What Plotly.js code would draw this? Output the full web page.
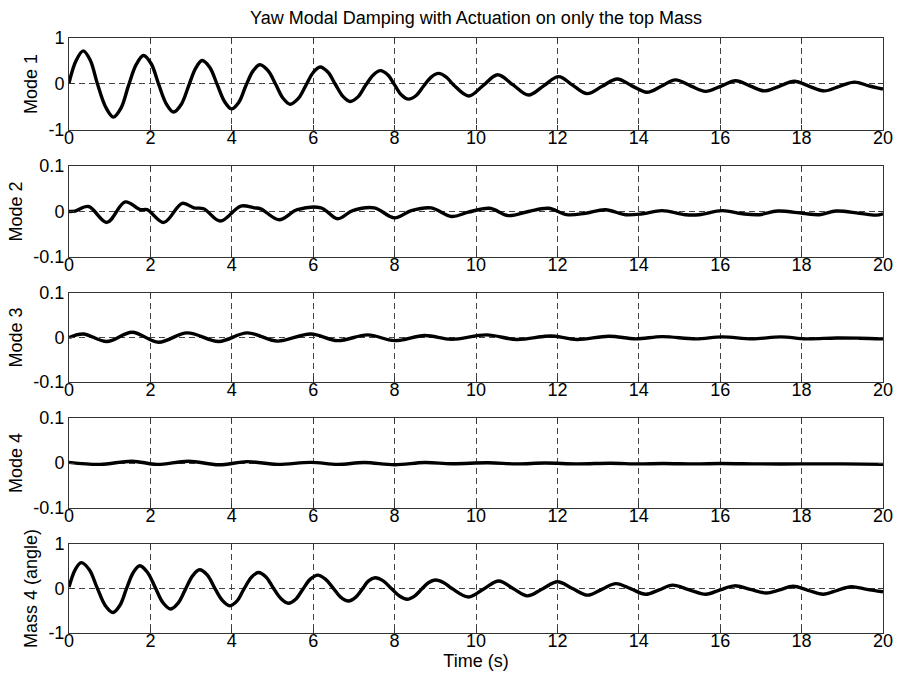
<!DOCTYPE html>
<html>
<head>
<meta charset="utf-8">
<script src="https://cdn.plot.ly/plotly-3.0.1.min.js"></script>
<style>html,body{margin:0;padding:0;background:#fff;}#chart{width:899px;height:681px;}</style>
</head>
<body>
<div id="chart"></div>
<script>
// ---- Data ----
const xTicks = [0, 2, 4, 6, 8, 10, 12, 14, 16, 18, 20];
const yTicksBig = [-1, 0, 1];
const yTickTextBig = ['-1', '0', '1'];
const yTicksSmall = [-0.1, 0, 0.1];
const yTickTextSmall = ['-0.1', '0', '0.1'];
const panelLabels = ['Mode 1', 'Mode 2', 'Mode 3', 'Mode 4', 'Mass 4 (angle)'];

const mode1T = [0, 0.17, 0.35, 0.52, 0.70, 0.90, 1.09, 1.28, 1.46, 1.65, 1.83, 2.02, 2.20, 2.39, 2.57, 2.76, 2.94, 3.11, 3.27, 3.46, 3.64, 3.82, 3.99, 4.17, 4.34, 4.52, 4.69, 4.89, 5.08, 5.26, 5.43, 5.63, 5.82, 6.00, 6.17, 6.36, 6.54, 6.73, 6.91, 7.10, 7.28, 7.47, 7.65, 7.83, 8.00, 8.17, 8.34, 8.53, 8.71, 8.90, 9.08, 9.27, 9.45, 9.82, 10.18, 10.53, 10.91, 11.29, 11.66, 12.03, 12.38, 12.73, 13.10, 13.47, 13.83, 14.20, 14.55, 14.90, 15.27, 15.64, 16.01, 16.38, 16.73, 17.08, 17.45, 17.82, 18.19, 18.56, 18.93, 19.30, 19.65, 20];
const mode1V = [0.02, 0.50, 0.72, 0.52, 0.00, -0.50, -0.72, -0.52, -0.04, 0.42, 0.62, 0.44, 0.00, -0.43, -0.61, -0.44, -0.04, 0.34, 0.51, 0.36, -0.01, -0.38, -0.54, -0.40, -0.05, 0.28, 0.42, 0.29, -0.01, -0.31, -0.44, -0.32, -0.03, 0.25, 0.37, 0.26, 0.00, -0.27, -0.38, -0.28, -0.04, 0.19, 0.29, 0.20, -0.02, -0.24, -0.33, -0.25, -0.05, 0.15, 0.23, 0.15, -0.02, -0.26, -0.03, 0.20, -0.02, -0.24, -0.04, 0.16, -0.03, -0.21, -0.05, 0.11, -0.04, -0.18, -0.05, 0.09, -0.04, -0.16, -0.05, 0.07, -0.04, -0.15, -0.05, 0.06, -0.05, -0.15, -0.05, 0.04, -0.04, -0.11];

const mode2T = [0, 0.15, 0.48, 0.93, 1.38, 1.75, 1.92, 2.33, 2.78, 3.07, 3.31, 3.72, 4.22, 4.55, 4.71, 5.16, 5.61, 6.19, 6.60, 6.97, 7.50, 8.00, 8.41, 8.90, 9.40, 9.81, 10.34, 10.79, 11.29, 11.78, 12.23, 12.68, 13.18, 13.67, 14.09, 14.57, 15.15, 15.48, 16.05, 16.55, 16.96, 17.41, 18.03, 18.44, 18.85, 19.42, 19.83, 20];
const mode2V = [0, 0.001, 0.011, -0.024, 0.021, 0.004, 0.004, -0.024, 0.018, 0.008, 0.006, -0.021, 0.012, 0.008, 0.006, -0.018, 0.004, 0.008, -0.016, 0.002, 0.008, -0.014, 0.002, 0.008, -0.011, -0.0015, 0.007, -0.009, 0, 0.007, -0.007, -0.004, 0.004, -0.007, -0.005, 0.002, -0.007, -0.007, 0.002, -0.005, -0.007, 0.001, -0.004, -0.007, 0.001, -0.004, -0.008, -0.005];

const mode3T = [0, 0.35, 0.93, 1.55, 2.20, 2.90, 3.68, 4.38, 5.12, 5.94, 6.60, 7.34, 8.00, 8.74, 9.40, 10.26, 11.00, 11.70, 11.95, 12.48, 13.26, 13.92, 14.57, 15.40, 16.05, 16.79, 17.49, 18.11, 18.85, 19.42, 20];
const mode3V = [0, 0.008, -0.009, 0.012, -0.0105, 0.0105, -0.009, 0.0105, -0.008, 0.008, -0.007, 0.006, -0.007, 0.0045, -0.004, 0.006, -0.0045, 0.003, 0.003, -0.0045, 0.003, -0.003, 0.002, -0.003, 0.0015, -0.003, 0.0015, -0.003, -0.001, -0.0015, -0.003];

const mode4T = [0, 0.76, 1.55, 2.16, 2.94, 3.68, 4.38, 5.12, 5.94, 6.60, 7.26, 8.00, 8.74, 9.40, 10.30, 11.00, 11.70, 12.50, 13.30, 14.00, 14.60, 15.40, 16.00, 17.00, 18.00, 19.00, 20];
const mode4V = [0.0015, -0.003, 0.004, -0.003, 0.004, -0.004, 0.003, -0.003, 0.0015, -0.003, 0.001, -0.004, 0.001, -0.0015, 0.0005, -0.002, 0, -0.002, -0.0005, -0.002, -0.001, -0.002, -0.001, -0.002, -0.002, -0.002, -0.003];

const mass4T = [0, 0.15, 0.30, 0.50, 0.69, 0.89, 1.08, 1.25, 1.41, 1.58, 1.74, 1.93, 2.12, 2.31, 2.50, 2.68, 2.86, 3.04, 3.21, 3.40, 3.58, 3.77, 3.95, 4.13, 4.30, 4.48, 4.65, 4.84, 5.02, 5.21, 5.39, 5.57, 5.75, 5.93, 6.11, 6.30, 6.49, 6.68, 6.87, 7.04, 7.20, 7.36, 7.52, 7.72, 7.92, 8.12, 8.31, 8.49, 8.66, 8.83, 9.00, 9.21, 9.41, 9.82, 10.19, 10.56, 10.91, 11.26, 11.63, 12.00, 12.37, 12.74, 13.09, 13.44, 13.81, 14.17, 14.50, 14.83, 15.24, 15.65, 16.00, 16.35, 16.74, 17.13, 17.46, 17.79, 18.16, 18.53, 18.88, 19.22, 19.60, 20];
const mass4V = [0.03, 0.42, 0.58, 0.42, 0.02, -0.38, -0.54, -0.38, -0.01, 0.36, 0.51, 0.36, 0.02, -0.32, -0.46, -0.33, -0.02, 0.29, 0.42, 0.30, 0.01, -0.27, -0.39, -0.28, -0.01, 0.25, 0.36, 0.26, 0.01, -0.23, -0.33, -0.24, -0.01, 0.21, 0.30, 0.21, 0.01, -0.20, -0.28, -0.20, -0.02, 0.17, 0.24, 0.17, 0.00, -0.17, -0.24, -0.17, -0.02, 0.13, 0.19, 0.13, 0.00, -0.19, -0.01, 0.17, 0.00, -0.165, -0.01, 0.15, 0.00, -0.15, -0.02, 0.11, -0.01, -0.13, -0.03, 0.075, -0.03, -0.13, -0.03, 0.06, -0.02, -0.10, -0.03, 0.05, -0.04, -0.13, -0.04, 0.04, -0.02, -0.075];

// ---- Build figure ----
const seriesT = [mode1T, mode2T, mode3T, mode4T, mass4T];
const seriesV = [mode1V, mode2V, mode3V, mode4V, mass4V];
const big = [true, false, false, false, true];
const domains = [[0.8454, 1.0], [0.6319, 0.7849], [0.4218, 0.5714], [0.2101, 0.3613], [0.0, 0.1496]];

const FONT = 'Liberation Sans, Arial, Helvetica, sans-serif';
const traces = [];
const layout = {
  width: 899, height: 681,
  margin: {l: 69, r: 16, t: 38, b: 48},
  paper_bgcolor: '#ffffff', plot_bgcolor: '#ffffff',
  showlegend: false,
  font: {family: FONT, color: '#000'},
  title: {text: 'Yaw Modal Damping with Actuation on only the top Mass', font: {family: FONT, size: 18, color: '#000'},
          x: 0.5, xref: 'paper', y: 1 - 18 / 681, yref: 'container', yanchor: 'middle'}
};

for (let i = 0; i < 5; i++) {
  const sfx = i === 0 ? '' : String(i + 1);
  traces.push({
    x: seriesT[i], y: seriesV[i], type: 'scatter', mode: 'lines',
    xaxis: 'x' + sfx, yaxis: 'y' + sfx,
    line: {color: '#000000', width: 3.4, shape: 'spline', smoothing: 1},
    hoverinfo: 'x+y'
  });
  layout['xaxis' + sfx] = {
    domain: [0, 1], range: [0, 20], anchor: 'y' + sfx,
    tickmode: 'array', tickvals: xTicks, ticktext: xTicks.map(String),
    ticks: 'inside', ticklen: 5, tickcolor: '#333', tickwidth: 1,
    showline: true, mirror: 'ticks', linecolor: '#333', linewidth: 1,
    showgrid: true, gridcolor: '#444', gridwidth: 1, griddash: '6px,4px',
    zeroline: false, automargin: false, ticklabelstandoff: -9,
    tickfont: {family: FONT, size: 18, color: '#000'},
    title: i === 4 ? {text: 'Time (s)', font: {family: FONT, size: 18, color: '#000'}, standoff: 0} : {text: ''}
  };
  layout['yaxis' + sfx] = {
    domain: domains[i], range: big[i] ? [-1, 1] : [-0.1, 0.1], anchor: 'x' + sfx,
    tickmode: 'array', tickvals: big[i] ? yTicksBig : yTicksSmall, ticktext: big[i] ? yTickTextBig : yTickTextSmall,
    ticks: 'inside', ticklen: 5, tickcolor: '#333', tickwidth: 1,
    showline: true, mirror: 'ticks', linecolor: '#333', linewidth: 1,
    showgrid: true, gridcolor: '#444', gridwidth: 1, griddash: '6px,4px',
    zeroline: false, automargin: false, ticklabelstandoff: 0,
    tickfont: {family: FONT, size: 18, color: '#000'},
    title: {text: panelLabels[i], font: {family: FONT, size: 18, color: '#000'}, standoff: 6}
  };
}

Plotly.newPlot('chart', traces, layout, {staticPlot: true, displayModeBar: false});
</script>
</body>
</html>
